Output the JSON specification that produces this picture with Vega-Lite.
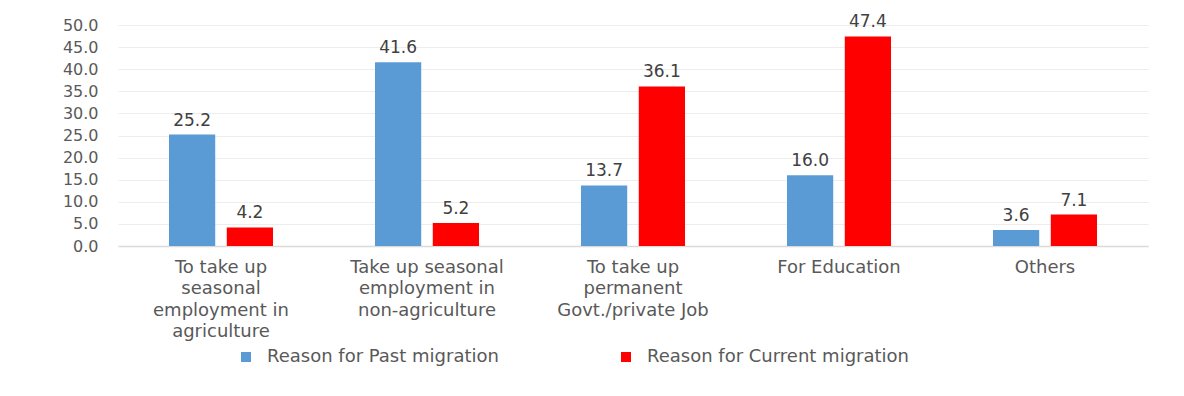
{
  "$schema": "https://vega.github.io/schema/vega-lite/v6.json",
  "width": 1030,
  "height": 221,
  "autosize": "none",
  "padding": {"left": 118, "top": 25, "right": 36, "bottom": 150},
  "background": "white",
  "config": {
    "font": "DejaVu Sans",
    "view": {"stroke": null}
  },
  "data": {
    "values": [
      {"reason": "To take up|seasonal|employment in|agriculture", "series": "Reason for Past migration", "value": 25.2},
      {"reason": "To take up|seasonal|employment in|agriculture", "series": "Reason for Current migration", "value": 4.2},
      {"reason": "Take up seasonal|employment in|non-agriculture", "series": "Reason for Past migration", "value": 41.6},
      {"reason": "Take up seasonal|employment in|non-agriculture", "series": "Reason for Current migration", "value": 5.2},
      {"reason": "To take up|permanent|Govt./private Job", "series": "Reason for Past migration", "value": 13.7},
      {"reason": "To take up|permanent|Govt./private Job", "series": "Reason for Current migration", "value": 36.1},
      {"reason": "For Education", "series": "Reason for Past migration", "value": 16.0},
      {"reason": "For Education", "series": "Reason for Current migration", "value": 47.4},
      {"reason": "Others", "series": "Reason for Past migration", "value": 3.6},
      {"reason": "Others", "series": "Reason for Current migration", "value": 7.1}
    ]
  },
  "encoding": {
    "x": {
      "field": "reason",
      "type": "nominal",
      "sort": null,
      "scale": {"paddingInner": 0.495, "paddingOuter": 0.2475},
      "axis": {
        "title": null,
        "labelAngle": 0,
        "labelExpr": "split(datum.label, '|')",
        "labelFontSize": 18,
        "labelColor": "#595959",
        "labelLineHeight": 21.5,
        "labelPadding": 12,
        "labelLimit": 0,
        "ticks": false,
        "domainColor": "#D9D9D9",
        "domainWidth": 1.5
      }
    },
    "xOffset": {
      "field": "series",
      "type": "nominal",
      "sort": ["Reason for Past migration", "Reason for Current migration"],
      "scale": {"paddingInner": 0.2, "paddingOuter": 0}
    },
    "y": {
      "field": "value",
      "type": "quantitative",
      "scale": {"domain": [0, 50]},
      "axis": {
        "title": null,
        "values": [0, 5, 10, 15, 20, 25, 30, 35, 40, 45, 50],
        "format": ".1f",
        "labelFontSize": 16,
        "labelColor": "#595959",
        "labelPadding": 20,
        "ticks": false,
        "domain": false,
        "gridColor": "#EDEDED",
        "gridWidth": 1
      }
    }
  },
  "layer": [
    {
      "mark": {"type": "bar"},
      "encoding": {
        "color": {
          "field": "series",
          "type": "nominal",
          "sort": ["Reason for Past migration", "Reason for Current migration"],
          "scale": {"domain": ["Reason for Past migration", "Reason for Current migration"], "range": ["#5B9BD5", "#FF0000"]},
          "legend": {
            "title": null,
            "orient": "none",
            "legendX": 119,
            "legendY": 323,
            "direction": "horizontal",
            "symbolType": "square",
            "symbolSize": 100,
            "symbolStrokeWidth": 0,
            "labelFontSize": 18,
            "labelColor": "#595959",
            "labelLimit": 0,
            "labelOffset": 12,
            "columnPadding": 118
          }
        }
      }
    },
    {
      "mark": {"type": "text", "dy": -14, "fontSize": 17, "color": "#404040"},
      "encoding": {
        "text": {"field": "value", "type": "quantitative", "format": ".1f"}
      }
    }
  ]
}
